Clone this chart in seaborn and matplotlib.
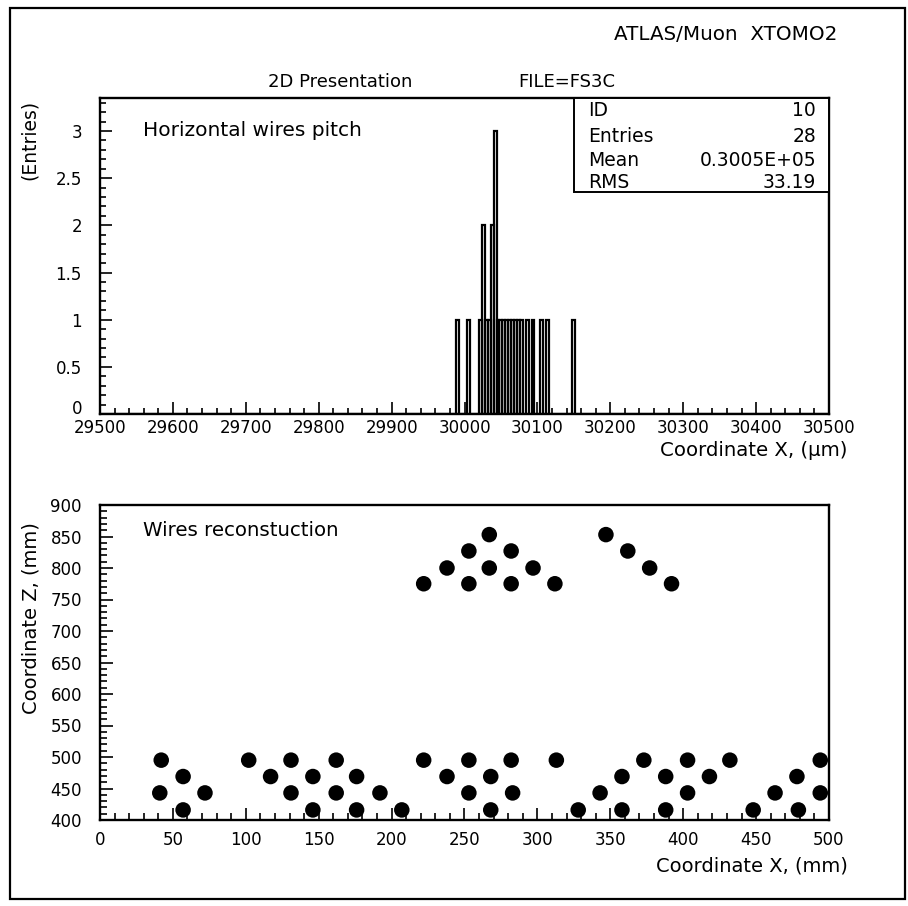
import numpy as np
import pandas as pd
import matplotlib
matplotlib.use("Agg")
import matplotlib.pyplot as plt
from matplotlib.ticker import MultipleLocator, FuncFormatter
from matplotlib.patches import Rectangle
import seaborn as sns

# ---- Horizontal wire pitch measurements (um), one entry per wire pair ----
pitch_entries = [29990, 30006, 30022, 30026, 30026, 30030, 30034, 30038, 30038,
                 30042, 30042, 30042, 30046, 30050, 30054, 30058, 30062, 30066,
                 30070, 30074, 30078, 30086, 30094, 30106, 30114, 30150]
pitch_bin_width = 4
pitch_range = (29500, 30500)

# Histogram statistics box
stats_labels = ["ID", "Entries", "Mean", "RMS"]
stats_values = ["10", "28", "0.3005E+05", "33.19"]

# ---- Reconstructed wire positions (mm), one list per tube layer ----
layer_z = [495, 469, 443, 416, 853, 827, 800, 775]
layer_x = [
    [42, 102, 131, 162, 222, 253, 282, 313, 373, 403, 432, 494],
    [57, 117, 146, 176, 238, 268, 358, 388, 418, 478],
    [41, 72, 131, 162, 192, 253, 283, 343, 403, 463, 494],
    [57, 146, 176, 207, 268, 328, 358, 388, 448, 479],
    [267, 347],
    [253, 282, 362],
    [238, 267, 297, 377],
    [222, 253, 282, 312, 392],
]

W, H = 908, 906
TICK_FS = 12

sns.set_style("ticks")
plt.rcParams["font.family"] = ["DejaVu Sans"]
plt.rcParams.update({
    "axes.linewidth": 1.7,
    "axes.edgecolor": "black",
    "text.color": "black",
    "axes.labelcolor": "black",
    "xtick.color": "black",
    "ytick.color": "black",
})

fig = plt.figure(figsize=(W / 100, H / 100), dpi=100)


def fx(px):
    return px / W


def fy(py):
    return 1 - py / H


def axes_box(left, top, right, bottom):
    return [fx(left), fy(bottom), (right - left) / W, (bottom - top) / H]


ax1 = fig.add_axes(axes_box(100, 98, 829, 414))
ax2 = fig.add_axes(axes_box(100, 505, 829, 820))

# ---- top panel: pitch histogram ----
edges = np.arange(pitch_range[0], pitch_range[1] + pitch_bin_width, pitch_bin_width)
sns.histplot(x=pitch_entries, bins=edges, element="bars", fill=False,
             color="black", linewidth=1.6, ax=ax1)
ax1.set_xlim(*pitch_range)
ax1.set_ylim(0, 3.35)
ax1.set_xlabel("")
ax1.set_ylabel("")
ax1.xaxis.set_major_locator(MultipleLocator(100))
ax1.xaxis.set_minor_locator(MultipleLocator(20))
ax1.yaxis.set_major_locator(MultipleLocator(0.5))
ax1.yaxis.set_minor_locator(MultipleLocator(0.1))
# the zero label sits slightly raised above the x labels, drawn separately
ax1.yaxis.set_major_formatter(FuncFormatter(lambda v, p: "" if v == 0 else f"{v:g}"))
ax1.tick_params(which="both", direction="in", top=False, right=False,
                width=1.2, labelsize=TICK_FS)
ax1.tick_params(which="major", length=8.6)
ax1.tick_params(which="minor", length=4.3)
ax1.tick_params(axis="x", pad=3.5)
ax1.tick_params(axis="y", pad=13)
ax1.annotate("0", xy=(0, 0), xycoords="axes fraction", xytext=(-13, 3.5),
             textcoords="offset points", ha="right", va="center",
             fontsize=TICK_FS)

fig.text(fx(143), fy(130), "Horizontal wires pitch", fontsize=14.5,
         ha="left", va="center")

# statistics box in the upper right corner
box_l, box_t, box_r, box_b = 574, 98, 829, 192
fig.patches.append(Rectangle((fx(box_l), fy(box_b)), (box_r - box_l) / W,
                             (box_b - box_t) / H, transform=fig.transFigure,
                             facecolor="white", edgecolor="black", linewidth=1.4,
                             zorder=5))
row_y = [111, 136, 160, 183]
for lab, val, yy in zip(stats_labels, stats_values, row_y):
    fig.text(fx(588), fy(yy), lab, fontsize=13.5, ha="left", va="center", zorder=6)
    fig.text(fx(816), fy(yy), val, fontsize=13.5, ha="right", va="center", zorder=6)

# ---- bottom panel: reconstructed wire positions ----
wires = pd.DataFrame(
    [(x, z) for z, xs in zip(layer_z, layer_x) for x in xs],
    columns=["x", "z"],
)
sns.scatterplot(data=wires, x="x", y="z", color="black", s=125,
                edgecolor="none", linewidth=0, ax=ax2)
ax2.set_xlim(0, 500)
ax2.set_ylim(400, 900)
ax2.set_xlabel("")
ax2.set_ylabel("")
ax2.xaxis.set_major_locator(MultipleLocator(50))
ax2.xaxis.set_minor_locator(MultipleLocator(10))
ax2.yaxis.set_major_locator(MultipleLocator(50))
ax2.yaxis.set_minor_locator(MultipleLocator(10))
ax2.tick_params(which="both", direction="in", top=False, right=False,
                width=1.2, labelsize=TICK_FS)
ax2.tick_params(which="major", length=9)
ax2.tick_params(which="minor", length=5)
ax2.tick_params(axis="x", pad=8)
ax2.tick_params(axis="y", pad=13)

fig.text(fx(143), fy(531), "Wires reconstuction", fontsize=14.2,
         ha="left", va="center")

# ---- page annotations ----
fig.text(fx(837), fy(34), "ATLAS/Muon  XTOMO2", fontsize=14.3, ha="right", va="center")
fig.text(fx(268), fy(82), "2D Presentation", fontsize=13, ha="left", va="center")
fig.text(fx(615), fy(82), "FILE=FS3C", fontsize=13, ha="right", va="center")
fig.text(fx(29), fy(100), "(Entries)", fontsize=13.5, rotation=90,
         ha="center", va="top")
fig.text(fx(848), fy(451), "Coordinate X, (\u03bcm)", fontsize=14.2,
         ha="right", va="center")
fig.text(fx(31), fy(522), "Coordinate Z, (mm)", fontsize=14, rotation=90,
         ha="center", va="top")
fig.text(fx(848), fy(866), "Coordinate X, (mm)", fontsize=14,
         ha="right", va="center")

# page frame
fig.patches.append(Rectangle((fx(10), fy(899)), (905 - 10) / W, (899 - 8) / H,
                             transform=fig.transFigure, fill=False,
                             edgecolor="black", linewidth=1.6))

fig.savefig("out.png", dpi=100, facecolor="white")
